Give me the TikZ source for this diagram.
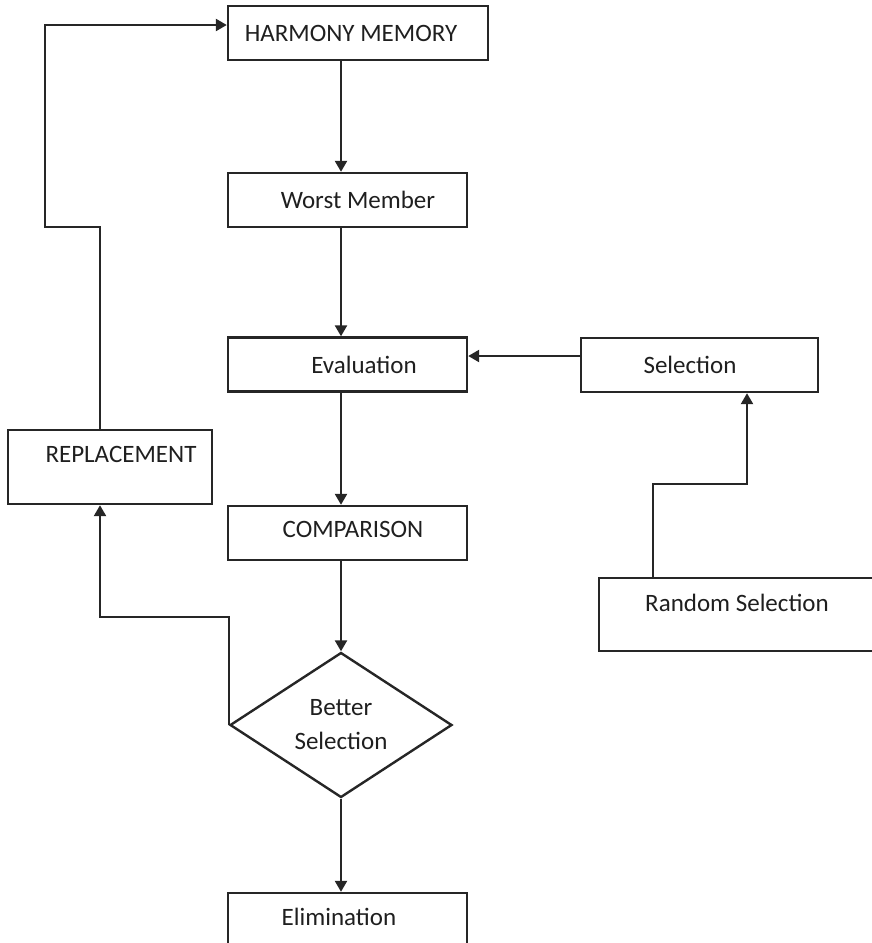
\documentclass[tikz,border=0pt]{standalone}
\usepackage{fontspec}
\setmainfont{Carlito}
\usetikzlibrary{shapes.geometric}
\usetikzlibrary{arrows.meta}

\begin{document}
\begin{tikzpicture}[x=1pt,y=-1pt]
	\tikzstyle{every node}=[font=\fontsize{25}{34}\selectfont, text=black!88]
	\tikzstyle{box}=[rectangle, draw=black!85, line width=2.4pt, minimum width=239pt, minimum height=54pt, inner sep=0pt, text height=17pt, text depth=0pt]
	\tikzstyle{choice}=[diamond, aspect=1.5, draw=black!85, line width=2.4pt, minimum width=222pt, minimum height=145pt, inner sep=0pt, align=center]
	\tikzstyle{link}=[draw=black!85, line width=2.4pt, -{Triangle[length=11pt,width=12pt]}]
	\useasboundingbox (0,0) rectangle (872,943);

	% boxes
	\node[box, minimum width=260pt] (hm) at (358,33) {HARMONY MEMORY\hspace*{14pt}};
	\node[box] (worst) at (347.5,200) {\hspace*{21pt}Worst Member};
	\node[box] (eval) at (347.5,364.5) {\hspace*{33pt}Evaluation};
	\node[box, minimum width=237pt] (sel) at (699.5,365) {Selection\hspace*{19pt}};
	\node[box, minimum width=204pt, minimum height=74pt, text depth=26pt] (repl) at (110,467) {\hspace*{22pt}REPLACEMENT};
	\node[box, text depth=8pt] (comp) at (347.5,533) {\hspace*{11pt}COMPARISON};
	\node[box, minimum width=276pt, minimum height=73pt, text depth=23pt] (rand) at (737,614.5) {Random Selection};
	\node[choice] (better) at (341,725) {Better\\Selection};
	\node[box, text depth=6pt] (elim) at (347.5,920) {Elimination\hspace*{17pt}};

	% bends
	\coordinate (rbend) at (653,484);
	\coordinate (lbend) at (100,617);
	\coordinate (ubend) at (45,227);

	% main column
	\draw[link] (hm.south -| better) -- (worst.north -| better);
	\draw[link] (worst.south -| better) -- (eval.north -| better);
	\draw[link] (eval.south -| better) -- (comp.north -| better);
	\draw[link] (comp.south -| better) -- (better.north);
	\draw[link] (better.south) -- (elim.north -| better);

	% side branches
	\draw[link] ([yshift=9pt]sel.west) -- ([yshift=9pt]sel.west -| eval.east);
	\draw[link] (rand.north -| rbend) -- (rbend) -| ([xshift=47.5pt]sel.south);
	\draw[link] (better.west) |- (lbend) -- (repl.south -| lbend);
	\draw[link] (repl.north -| lbend) |- (ubend) |- ([yshift=8pt]hm.west);
\end{tikzpicture}
\end{document}
